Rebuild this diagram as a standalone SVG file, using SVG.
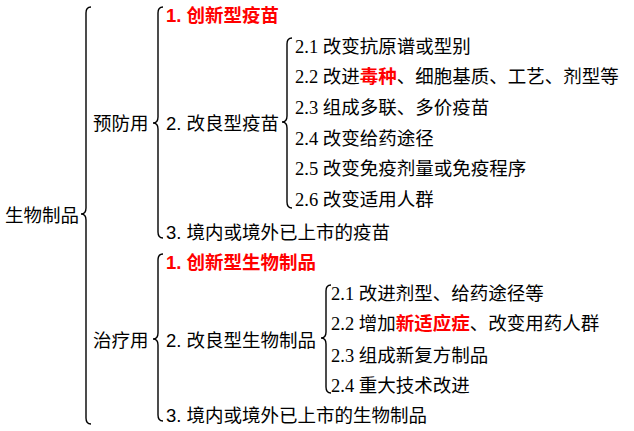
<svg xmlns="http://www.w3.org/2000/svg" width="634" height="431" viewBox="0 0 634 431">
<style>
text{font-family:"Noto Sans CJK SC","Liberation Sans",sans-serif;font-size:18.5px;fill:#000}
.s{font-family:"Liberation Sans","Noto Sans CJK SC",sans-serif}
.n{font-family:"Liberation Serif","Noto Sans CJK SC",serif}
.r{fill:#ff0000;font-weight:bold}
.b{fill:none;stroke:#000;stroke-width:1.4}
</style>
<rect width="634" height="431" fill="#fff"/>
<g id="connectors">
<path class="b" d="M91,7 Q86,7 86,13 L86,208 Q86,214 81,214 Q86,214 86,220 L86,418 Q86,424 91,424"/>
<path class="b" d="M163,7 Q158,7 158,13 L158,117 Q158,123 153,123 Q158,123 158,129 L158,232 Q158,238 163,238"/>
<path class="b" d="M163,254 Q158,254 158,260 L158,333 Q158,339 153,339 Q158,339 158,345 L158,415 Q158,421 163,421"/>
<path class="b" d="M292,38 Q287,38 287,44 L287,116 Q287,122 282,122 Q287,122 287,128 L287,202 Q287,208 292,208"/>
<path class="b" d="M331,285 Q326,285 326,291 L326,332 Q326,338 321,338 Q326,338 326,344 L326,387 Q326,393 331,393"/>
</g>
<g id="root"><text x="5" y="222">生物制品</text></g>
<g id="prevent"><text x="93" y="130">预防用</text></g>
<g id="p1"><text x="166" y="22" class="r"><tspan class="s">1. </tspan>创新型疫苗</text></g>
<g id="p2"><text x="166" y="130"><tspan class="s">2. </tspan>改良型疫苗</text></g>
<g id="p21"><text x="295" y="53"><tspan class="n">2.1 </tspan>改变抗原谱或型别</text></g>
<g id="p22"><text x="295" y="83"><tspan class="n">2.2 </tspan>改进<tspan class="r">毒种</tspan>、细胞基质、工艺、剂型等</text></g>
<g id="p23"><text x="295" y="114"><tspan class="n">2.3 </tspan>组成多联、多价疫苗</text></g>
<g id="p24"><text x="295" y="145"><tspan class="n">2.4 </tspan>改变给药途径</text></g>
<g id="p25"><text x="295" y="175"><tspan class="n">2.5 </tspan>改变免疫剂量或免疫程序</text></g>
<g id="p26"><text x="295" y="206"><tspan class="n">2.6 </tspan>改变适用人群</text></g>
<g id="p3"><text x="166" y="239"><tspan class="s">3. </tspan>境内或境外已上市的疫苗</text></g>
<g id="treat"><text x="93" y="347">治疗用</text></g>
<g id="t1"><text x="166" y="269" class="r"><tspan class="s">1. </tspan>创新型生物制品</text></g>
<g id="t2"><text x="166" y="347"><tspan class="s">2. </tspan>改良型生物制品</text></g>
<g id="t21"><text x="331" y="300"><tspan class="n">2.1 </tspan>改进剂型、给药途径等</text></g>
<g id="t22"><text x="331" y="330"><tspan class="n">2.2 </tspan>增加<tspan class="r">新适应症</tspan>、改变用药人群</text></g>
<g id="t23"><text x="331" y="362"><tspan class="n">2.3 </tspan>组成新复方制品</text></g>
<g id="t24"><text x="331" y="392"><tspan class="n">2.4 </tspan>重大技术改进</text></g>
<g id="t3"><text x="166" y="422"><tspan class="s">3. </tspan>境内或境外已上市的生物制品</text></g>
</svg>
